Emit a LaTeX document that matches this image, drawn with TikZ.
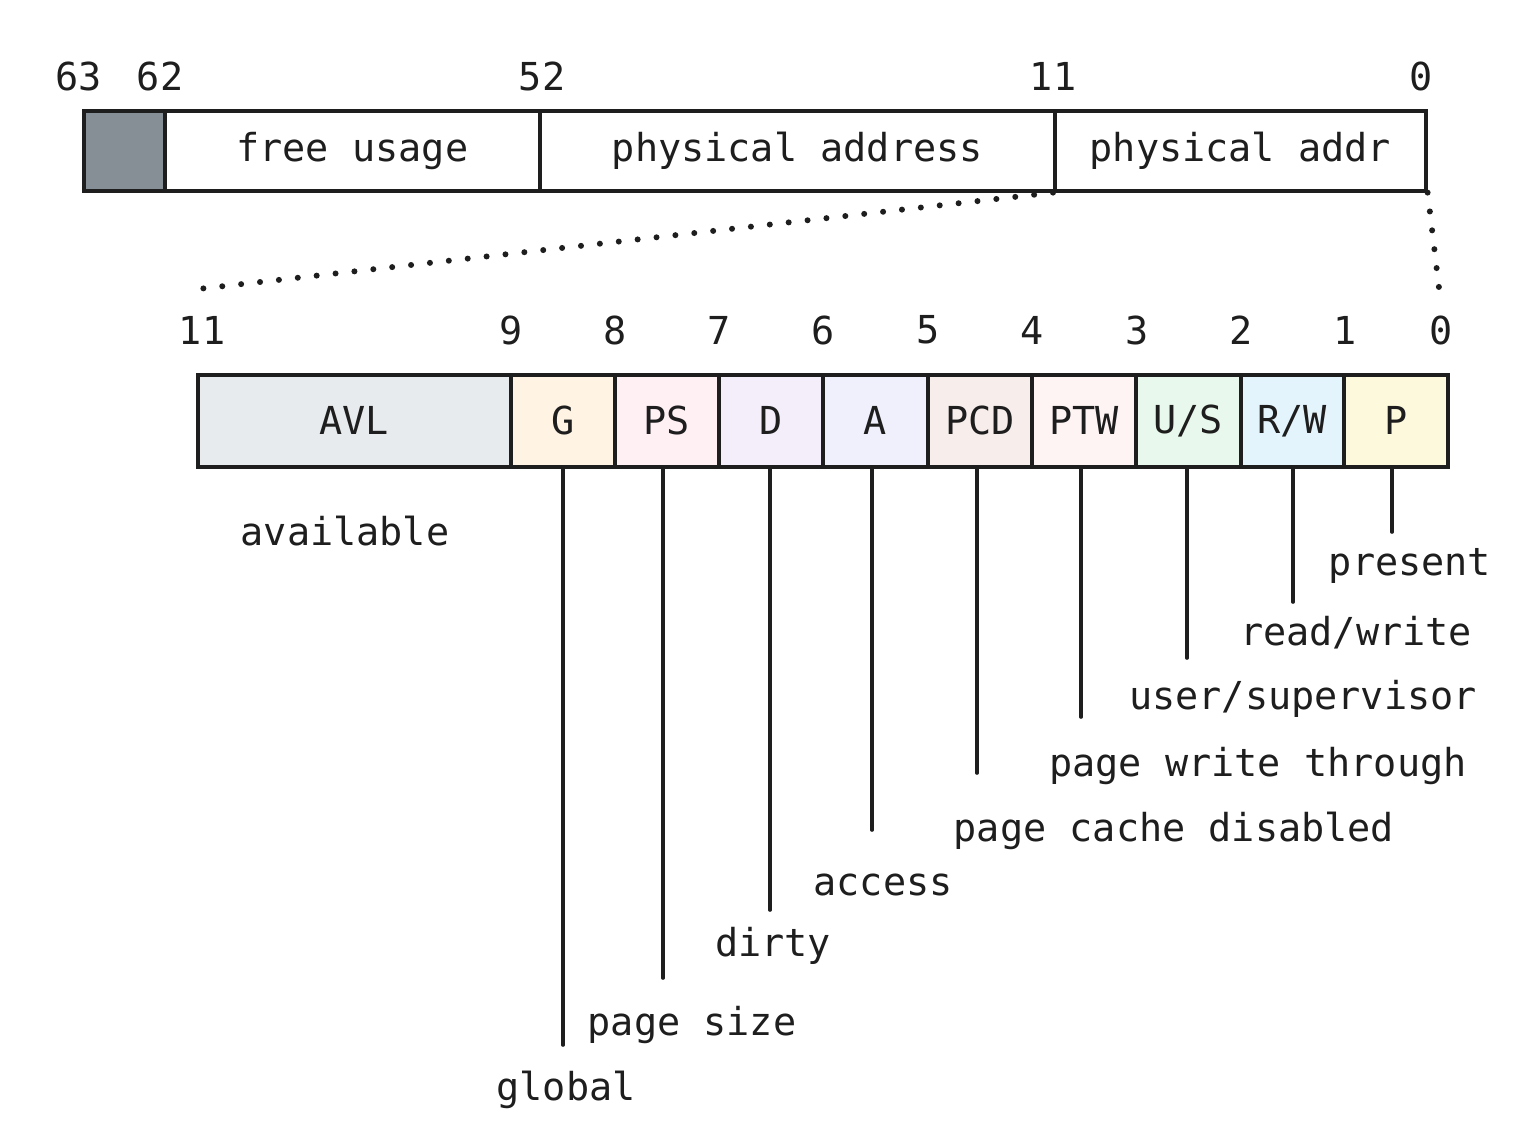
\documentclass[tikz,border=0pt]{standalone}
\usepackage{fontspec}
\setmonofont{DejaVu Sans Mono}
\definecolor{ink}{HTML}{1E1E1E}
\definecolor{cgray}{HTML}{868E96}
\definecolor{cavl}{HTML}{E7EBEE}
\definecolor{cg}{HTML}{FFF4E4}
\definecolor{cps}{HTML}{FFF0F4}
\definecolor{cd}{HTML}{F4EEFB}
\definecolor{ca}{HTML}{F0F0FD}
\definecolor{cpcd}{HTML}{F7EEEC}
\definecolor{cptw}{HTML}{FEF4F4}
\definecolor{cus}{HTML}{E9F8EC}
\definecolor{crw}{HTML}{E4F4FD}
\definecolor{cp}{HTML}{FDF9DC}
\begin{document}
\begin{tikzpicture}[x=1pt,y=-1pt,
  every node/.style={font=\ttfamily\fontsize{38.5}{42}\selectfont, text=ink},
  cell/.style={draw=ink, line width=3.6pt, rectangle, anchor=north west, inner sep=0pt, minimum height=#1},
  topcell/.style={cell=80pt},
  botcell/.style={cell=92pt},
  lbl/.style={inner sep=0pt, yshift=-3pt},
  tick/.style={draw=ink, line width=3.6pt, line cap=round},
  dots/.style={draw=ink, line width=6pt, line cap=round, dash pattern=on 0pt off 19pt}
]
\useasboundingbox (0,0) rectangle (1531,1137);
% top bar
\node[topcell, fill=cgray, minimum width=81pt] (t0) at (82,109) {};
\node[topcell, fill=white, minimum width=375pt] (t1) at (163,109) {free usage};
\node[topcell, fill=white, minimum width=515pt] (t2) at (538,109) {physical address};
\node[topcell, fill=white, minimum width=371pt] (t3) at (1053,109) {physical addr};
% top numbers
\node[lbl] (n63) at (79,73) {63};
\node[lbl] (n62) at (160,73) {62};
\node[lbl] (n52) at (542,73) {52};
\node[lbl] (n11) at (1053,73) {11};
\node[lbl] (n0) at (1421,73) {0};
% bottom bar
\node[botcell, fill=cavl, minimum width=313pt] (avl) at (196,373) {AVL};
\node[botcell, fill=cg, minimum width=104pt] (g) at (509,373) {G};
\node[botcell, fill=cps, minimum width=104pt] (ps) at (613,373) {PS};
\node[botcell, fill=cd, minimum width=104pt] (d) at (717,373) {D};
\node[botcell, fill=ca, minimum width=105pt] (a) at (821,373) {A};
\node[botcell, fill=cpcd, minimum width=104pt] (pcd) at (926,373) {PCD};
\node[botcell, fill=cptw, minimum width=104pt] (ptw) at (1030,373) {PTW};
\node[botcell, fill=cus, minimum width=105pt] (us) at (1134,373) {U/S};
\node[botcell, fill=crw, minimum width=103pt] (rw) at (1239,373) {R/W};
\node[botcell, fill=cp, minimum width=104pt] (p) at (1342,373) {P};
% bottom numbers
\node[lbl] (b11) at (202,327) {11};
\node[lbl] (b9) at (511,327) {9};
\node[lbl] (b8) at (615,327) {8};
\node[lbl] (b7) at (719,327) {7};
\node[lbl] (b6) at (823,327) {6};
\node[lbl] (b5) at (928,327) {5};
\node[lbl] (b4) at (1032,327) {4};
\node[lbl] (b3) at (1137,327) {3};
\node[lbl] (b2) at (1241,327) {2};
\node[lbl] (b1) at (1345,327) {1};
\node[lbl] (b0) at (1441,327) {0};
% dotted zoom lines
\coordinate (zl) at (198,289);
\coordinate (zr) at (1439,288);
\draw[dots] (t3.south west) -- (zl);
\draw[dots] (t3.south east) -- (zr);
% descriptions
\node[lbl] (lavl) at (345,528) {available};
\node[lbl] (lp) at (1410,563) {present};
\node[lbl] (lrw) at (1356,630) {read/write};
\node[lbl] (lus) at (1303,696) {user/supervisor};
\node[lbl] (lptw) at (1258,763) {page write through};
\node[lbl] (lpcd) at (1174,828) {page cache disabled};
\node[lbl] (la) at (883,882) {access};
\node[lbl] (ld) at (773,943) {dirty};
\node[lbl] (lps) at (692,1022) {page size};
\node[lbl] (lg) at (566,1087) {global};
% leader lines
\coordinate (eg) at (563,1045);
\coordinate (eps) at (663,978);
\coordinate (ed) at (770,910);
\coordinate (ea) at (872,830);
\coordinate (epcd) at (977,773);
\coordinate (eptw) at (1081,717);
\coordinate (eus) at (1187,658);
\coordinate (erw) at (1293,602);
\coordinate (ep) at (1392,532);
\draw[tick] (g.south -| eg) -- (eg);
\draw[tick] (ps.south -| eps) -- (eps);
\draw[tick] (d.south -| ed) -- (ed);
\draw[tick] (a.south -| ea) -- (ea);
\draw[tick] (pcd.south -| epcd) -- (epcd);
\draw[tick] (ptw.south -| eptw) -- (eptw);
\draw[tick] (us.south -| eus) -- (eus);
\draw[tick] (rw.south -| erw) -- (erw);
\draw[tick] (p.south -| ep) -- (ep);
\end{tikzpicture}
\end{document}
